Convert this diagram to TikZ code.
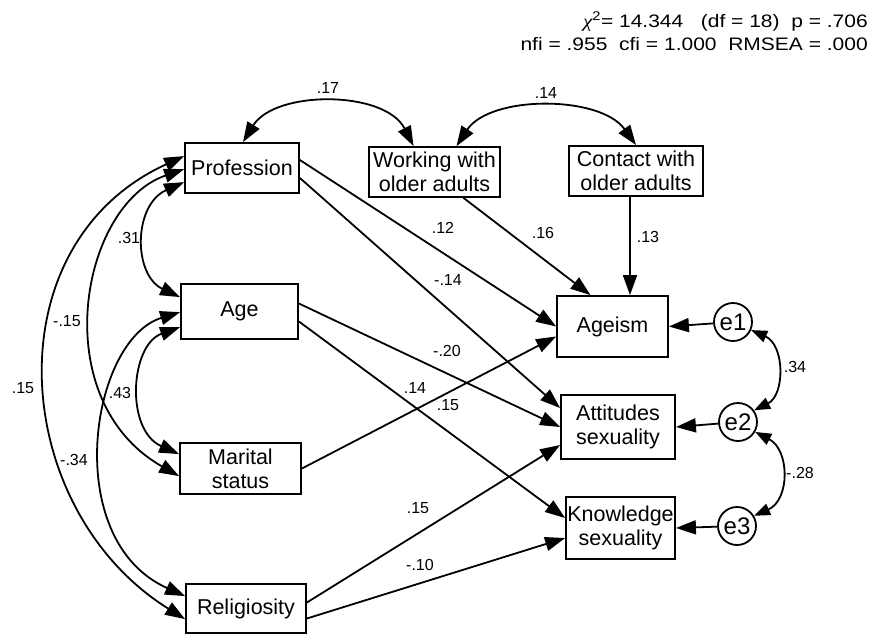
\documentclass[tikz,border=0pt]{standalone}
\usepackage{fontspec}
\setmainfont{Liberation Sans}
\newfontfamily\serifchi{Liberation Serif}
\usetikzlibrary{arrows.meta}
\begin{document}
\begin{tikzpicture}[x=1pt,y=-1pt,
  box/.style={draw, line width=1.8pt, inner sep=0pt, align=center,
    font=\fontsize{21.5}{24}\selectfont},
  err/.style={circle, draw, line width=1.8pt, minimum size=38pt, inner sep=0pt,
    font=\fontsize{24}{26}\selectfont},
  lab/.style={inner sep=0pt, font=\fontsize{16}{18}\selectfont},
  stat/.style={inner sep=0pt, anchor=base east, font=\fontsize{21}{24}\selectfont},
  arr/.style={-{Triangle[length=20pt,width=14pt]}, line width=1.8pt},
  dbl/.style={{Triangle[length=20pt,width=14pt]}-{Triangle[length=20pt,width=14pt]}, line width=1.8pt},
  dbls/.style={{Triangle[length=16pt,width=12pt]}-{Triangle[length=16pt,width=12pt]}, line width=1.8pt}
]
\useasboundingbox (0,0) rectangle (874,637);

% fit statistics
\node[stat] (stat1) at (868,27) {\scalebox{1}[0.86]{{\serifchi\itshape χ}\textsuperscript{2}= 14.344\ \ \ (df = 18)\ \ p = .706}};
\node[stat] (stat2) at (868,50) {\scalebox{1}[0.86]{nfi = .955\ \ cfi = 1.000\ \ RMSEA = .000}};

% observed variables
\node[box, minimum width=114pt, minimum height=50pt] (prof) at (242,168) {Profession};
\node[box, minimum width=117pt, minimum height=55pt] (age) at (239.5,311.5) {Age};
\node[box, minimum width=121pt, minimum height=51pt] (mar) at (240.5,468.5) {Marital\\status};
\node[box, minimum width=120pt, minimum height=49pt] (rel) at (246,608.5) {Religiosity};
\node[box, minimum width=131pt, minimum height=50pt] (work) at (434.5,172) {Working with\\older adults};
\node[box, minimum width=134pt, minimum height=50pt] (cont) at (636,171) {Contact with\\older adults};
\node[box, minimum width=111pt, minimum height=61pt] (agei) at (612.5,326.5) {Ageism};
\node[box, minimum width=114pt, minimum height=64pt] (att) at (618,427) {Attitudes\\sexuality};
\node[box, minimum width=109pt, minimum height=62pt] (know) at (620.5,528) {Knowledge\\sexuality};

% error terms
\node[err] (e1) at (733,322) {e1};
\node[err] (e2) at (738,422) {e2};
\node[err] (e3) at (737,526) {e3};

% directed paths
\draw[arr] ([yshift=8pt]prof.east) -- (agei.west);
\draw[arr] ([yshift=-10pt]prof.east) -- ([yshift=19pt]att.west);
\draw[arr] ([xshift=29pt]work.south) -- ([xshift=-22pt]agei.north);
\draw[arr] ([xshift=-6pt]cont.south) -- ([xshift=-6pt]cont.south |- agei.north);
\draw[arr] ([yshift=8pt]age.east) -- (att.west);
\draw[arr] ([yshift=-10pt]age.east) -- ([yshift=10pt]know.west);
\draw[arr] (mar.east) -- ([yshift=-10pt]agei.west);
\draw[arr] ([yshift=6pt]rel.east) -- ([yshift=-18pt]att.west);
\draw[arr] ([yshift=-10pt]rel.east) -- ([yshift=-10pt]know.west);
\draw[arr] (e1) -- (agei.east);
\draw[arr] (e2) -- (att.east);
\draw[arr] (e3) -- (know.east);

% covariances
\draw[dbl] ([xshift=1pt]prof.north) .. controls (275,90) and (385,90) .. ([xshift=-21pt]work.north);
\draw[dbl] ([xshift=22pt]work.north) .. controls (490,95) and (600,95) .. (cont.north);
\draw[dbl] ([yshift=-40pt]prof.north west) .. controls (133,205) and (133,275) .. ([yshift=-14pt]age.north west);
\draw[dbl] ([yshift=-27pt]prof.north west) .. controls (80,205) and (45,400) .. ([yshift=-34pt]mar.north west);
\draw[dbl] ([yshift=-14pt]prof.north west) .. controls (-10,245) and (10,510) .. ([yshift=-36pt]rel.north west);
\draw[dbl] ([yshift=-44pt]age.north west) .. controls (130,345) and (125,430) .. ([yshift=-12pt]mar.north west);
\draw[dbl] ([yshift=-29pt]age.north west) .. controls (90,340) and (60,540) .. ([yshift=-13pt]rel.north west);
\draw[dbls] (e1.-24) .. controls (785,345) and (785,395) .. (e2.36);
\draw[dbls] (e2.-30) .. controls (790,450) and (790,500) .. (e3.31);

% coefficients
\node[lab] (l17) at (328,88) {.17};
\node[lab] (l14a) at (546,93) {.14};
\node[lab] (l12) at (443,228) {.12};
\node[lab] (l16) at (543,233) {.16};
\node[lab] (l13) at (648,237) {.13};
\node[lab] (l14b) at (448,280) {-.14};
\node[lab] (l20) at (447,351) {-.20};
\node[lab] (l14c) at (415,388) {.14};
\node[lab] (l15a) at (448,405) {.15};
\node[lab] (l15b) at (418,508) {.15};
\node[lab] (l10) at (420,565) {-.10};
\node[lab] (l34) at (795,367) {.34};
\node[lab] (l28) at (800,473) {-.28};
\node[lab] (l31) at (129,238) {.31};
\node[lab] (l15c) at (67,321) {-.15};
\node[lab] (l15d) at (23,388) {.15};
\node[lab] (l43) at (120,393) {.43};
\node[lab] (l34b) at (74,460) {-.34};
\end{tikzpicture}
\end{document}
